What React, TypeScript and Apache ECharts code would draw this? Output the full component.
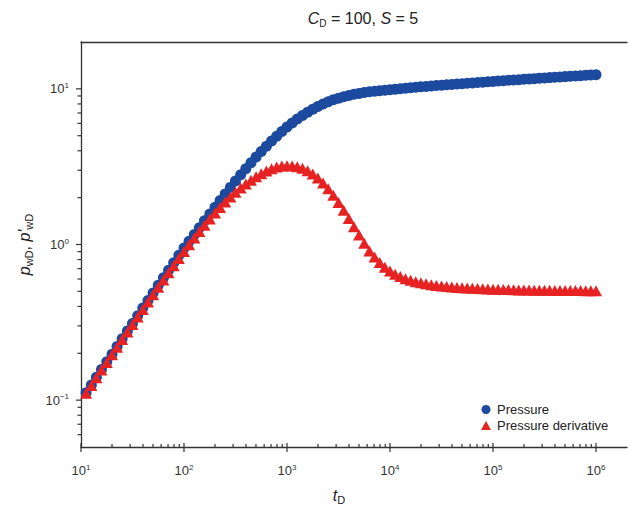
import React, { useEffect, useRef } from 'react';
import * as echarts from 'echarts';

// dimensionless time
const tD = [
  11.2, 12.6, 14.1, 15.8, 17.8, 20.0, 22.4, 25.1, 28.2, 31.6, 35.5, 39.8, 44.7, 50.1, 56.2, 63.1, 70.8, 79.4, 89.1, 100,
  112, 126, 141, 158, 178, 200, 224, 251, 282, 316, 355, 398, 447, 501, 562, 631, 708, 794, 891, 1000,
  1122, 1259, 1413, 1585, 1778, 1995, 2239, 2512, 2818, 3162, 3548, 3981, 4467, 5012, 5623, 6310, 7079, 7943, 8913, 10000,
  11220, 12590, 14130, 15850, 17780, 19950, 22390, 25120, 28180, 31620, 35480, 39810, 44670, 50120, 56230, 63100, 70790, 79430, 89130, 100000,
  112200, 125900, 141300, 158500, 177800, 199500, 223900, 251200, 281800, 316200, 354800, 398100, 446700, 501200, 562300, 631000, 707900, 794300, 891300, 1000000,
];

// pressure p_wD
const pressure = [
  0.1116, 0.1251, 0.1403, 0.1572, 0.1762, 0.1975, 0.2214, 0.248, 0.2778, 0.3112, 0.3485, 0.3902, 0.4367, 0.4886, 0.5465, 0.6111, 0.6828, 0.7628, 0.8516, 0.95,
  1.049, 1.16, 1.283, 1.42, 1.57, 1.736, 1.917, 2.114, 2.328, 2.559, 2.806, 3.07, 3.35, 3.646, 3.957, 4.282, 4.62, 4.968, 5.322, 5.68,
  6.038, 6.393, 6.742, 7.08, 7.404, 7.71, 7.996, 8.259, 8.498, 8.714, 8.905, 9.074, 9.223, 9.353, 9.467, 9.567, 9.656, 9.737, 9.811, 9.88,
  9.956, 10.029, 10.1, 10.168, 10.235, 10.301, 10.366, 10.43, 10.493, 10.556, 10.618, 10.679, 10.741, 10.801, 10.862, 10.922, 10.982, 11.042, 11.102, 11.161,
  11.221, 11.28, 11.339, 11.398, 11.457, 11.516, 11.575, 11.633, 11.692, 11.75, 11.809, 11.867, 11.926, 11.984, 12.042, 12.1, 12.159, 12.217, 12.275, 12.333,
];

// pressure derivative p'_wD
const derivative = [
  0.1109, 0.1243, 0.1393, 0.156, 0.1746, 0.1955, 0.2189, 0.2449, 0.2739, 0.3062, 0.3422, 0.3823, 0.4267, 0.4761, 0.5307, 0.5912, 0.6578, 0.7312, 0.8119, 0.9,
  0.997, 1.101, 1.212, 1.331, 1.457, 1.591, 1.73, 1.873, 2.018, 2.164, 2.308, 2.451, 2.59, 2.724, 2.851, 2.969, 3.069, 3.144, 3.19, 3.205,
  3.2, 3.16, 3.09, 2.98, 2.84, 2.67, 2.48, 2.28, 2.07, 1.86, 1.66, 1.47, 1.3, 1.15, 1.02, 0.91, 0.83, 0.765, 0.715, 0.675,
  0.645, 0.622, 0.603, 0.589, 0.577, 0.567, 0.559, 0.552, 0.546, 0.541, 0.537, 0.533, 0.53, 0.527, 0.525, 0.523, 0.521, 0.519, 0.518, 0.516,
  0.515, 0.514, 0.513, 0.512, 0.511, 0.511, 0.51, 0.509, 0.509, 0.508, 0.508, 0.507, 0.507, 0.507, 0.506, 0.506, 0.506, 0.505, 0.505, 0.505,
];

const X_MIN = 10;
const X_MAX = 2000000;
const Y_MIN = 0.05;
const Y_MAX = 20;

const xMajorTicks = [10, 100, 1000, 10000, 100000, 1000000];
const xMinorTicks = [
  20, 30, 40, 50, 60, 70, 80, 90,
  200, 300, 400, 500, 600, 700, 800, 900,
  2000, 3000, 4000, 5000, 6000, 7000, 8000, 9000,
  20000, 30000, 40000, 50000, 60000, 70000, 80000, 90000,
  200000, 300000, 400000, 500000, 600000, 700000, 800000, 900000,
];
const yMajorTicks = [0.1, 1, 10];
const yMinorTicks = [0.06, 0.07, 0.08, 0.09, 0.2, 0.3, 0.4, 0.5, 0.6, 0.7, 0.8, 0.9, 2, 3, 4, 5, 6, 7, 8, 9];

const BLUE = '#1c4a9e';
const RED = '#e62222';
const AXIS = '#333333';
const TXT = '#222222';
const FONT = '"Liberation Sans", Arial, sans-serif';

const powLabel = (v: number) => {
  const lg = Math.log10(v);
  const e = Math.round(lg);
  if (Math.abs(lg - e) > 1e-6) return '';
  return `{b|10}{s|${e < 0 ? '−' : ''}${Math.abs(e)}}`;
};

const labelRich = {
  b: { fontSize: 13, lineHeight: 15, color: '#333', fontFamily: FONT },
  s: { fontSize: 8, lineHeight: 9, verticalAlign: 'top', color: '#333', fontFamily: FONT },
};

const nameRich = {
  i: { fontSize: 16, fontStyle: 'italic', fontWeight: 'normal', color: TXT, fontFamily: FONT, lineHeight: 20 },
  n: { fontSize: 16, fontWeight: 'normal', color: TXT, fontFamily: FONT, lineHeight: 20 },
  sub: { fontSize: 11, fontWeight: 'normal', color: TXT, fontFamily: FONT, verticalAlign: 'bottom', lineHeight: 12 },
};

export default function App() {
  const ref = useRef<HTMLDivElement>(null);

  useEffect(() => {
    if (!ref.current) return;
    const chart = echarts.init(ref.current, null, { renderer: 'svg' });

    const xTickData = [
      ...xMajorTicks.map((v) => [v, Y_MIN, 1]),
      ...xMinorTicks.map((v) => [v, Y_MIN, 0]),
    ];
    const yTickData = [
      ...yMajorTicks.map((v) => [X_MIN, v, 1]),
      ...yMinorTicks.map((v) => [X_MIN, v, 0]),
    ];

    const option: any = {
      animation: false,
      backgroundColor: '#ffffff',
      title: {
        text: '{i|C}{sub|D}{n| = 100, }{i|S}{n| = 5}',
        left: 358,
        top: 3,
        textAlign: 'center',
        textStyle: {
          fontWeight: 'normal',
          rich: {
            i: { fontSize: 16, fontStyle: 'italic', fontWeight: 'normal', color: TXT, fontFamily: FONT, lineHeight: 20 },
            n: { fontSize: 16, fontWeight: 'normal', color: TXT, fontFamily: FONT, lineHeight: 20 },
            sub: { fontSize: 10, fontWeight: 'normal', color: TXT, fontFamily: FONT, verticalAlign: 'bottom', lineHeight: 10 },
          },
        },
      },
      legend: {
        orient: 'vertical',
        left: 476,
        top: 398,
        itemWidth: 12,
        itemHeight: 9,
        itemGap: 3,
        textStyle: { fontSize: 13, color: TXT, fontFamily: FONT },
        data: [
          { name: 'Pressure', icon: 'circle' },
          { name: 'Pressure derivative', icon: 'path://M5,0L10,9L0,9Z' },
        ],
      },
      grid: { left: 81, top: 42, right: -5, bottom: 64, containLabel: false },
      xAxis: [
        {
          type: 'log',
          logBase: 10,
          min: X_MIN,
          max: X_MAX,
          name: '{i|t}{sub|D}',
          nameLocation: 'middle',
          nameGap: 38,
          nameTextStyle: { padding: [0, 30, 0, 0], rich: nameRich },
          axisLine: { show: true, lineStyle: { color: AXIS, width: 1.3 } },
          axisTick: { show: false },
          splitLine: { show: false },
          minorTick: { show: false },
          axisLabel: { margin: 16, formatter: powLabel, rich: labelRich, showMinLabel: true, showMaxLabel: true },
        },
        {
          type: 'log',
          logBase: 10,
          min: X_MIN,
          max: X_MAX,
          position: 'top',
          axisLine: { show: true, lineStyle: { color: AXIS, width: 1.3 } },
          axisTick: { show: false },
          axisLabel: { show: false },
          splitLine: { show: false },
        },
      ],
      yAxis: {
        type: 'log',
        logBase: 10,
        min: Y_MIN,
        max: Y_MAX,
        name: "{i|p}{sub|wD}{n|, }{i|p'}{sub|wD}",
        nameLocation: 'middle',
        nameRotate: 90,
        nameGap: 46,
        nameTextStyle: { rich: nameRich },
        axisLine: { show: true, lineStyle: { color: AXIS, width: 1.3 } },
        axisTick: { show: false },
        splitLine: { show: false },
        axisLabel: { margin: 12, formatter: powLabel, rich: labelRich },
      },
      series: [
        {
          name: 'Pressure',
          type: 'scatter',
          symbol: 'circle',
          symbolSize: 11,
          itemStyle: { color: BLUE, opacity: 1 },
          data: tD.map((t, i) => [t, pressure[i]]),
          z: 3,
        },
        {
          name: 'Pressure derivative',
          type: 'scatter',
          symbol: 'triangle',
          symbolSize: [12, 11],
          itemStyle: { color: RED, opacity: 1 },
          data: tD.map((t, i) => [t, derivative[i]]),
          z: 4,
        },
        {
          type: 'custom',
          silent: true,
          z: 10,
          data: xTickData,
          renderItem: (_p: any, api: any) => {
            const pt = api.coord([api.value(0), api.value(1)]);
            const major = api.value(2) === 1;
            return {
              type: 'line',
              shape: { x1: pt[0], y1: pt[1] - (major ? 4 : 3), x2: pt[0], y2: pt[1] + (major ? 5 : 0) },
              style: { stroke: AXIS, lineWidth: 1.2 },
            };
          },
        },
        {
          type: 'custom',
          silent: true,
          z: 10,
          data: yTickData,
          renderItem: (_p: any, api: any) => {
            const pt = api.coord([api.value(0), api.value(1)]);
            const major = api.value(2) === 1;
            return {
              type: 'line',
              shape: { x1: pt[0] - (major ? 5 : 3.5), y1: pt[1], x2: pt[0], y2: pt[1] },
              style: { stroke: AXIS, lineWidth: 1.2 },
            };
          },
        },
      ],
    };

    chart.setOption(option);
    return () => chart.dispose();
  }, []);

  return (
    <div
      ref={ref}
      style={{ position: 'absolute', left: 0, top: 0, width: 630, height: 511 }}
    />
  );
}
